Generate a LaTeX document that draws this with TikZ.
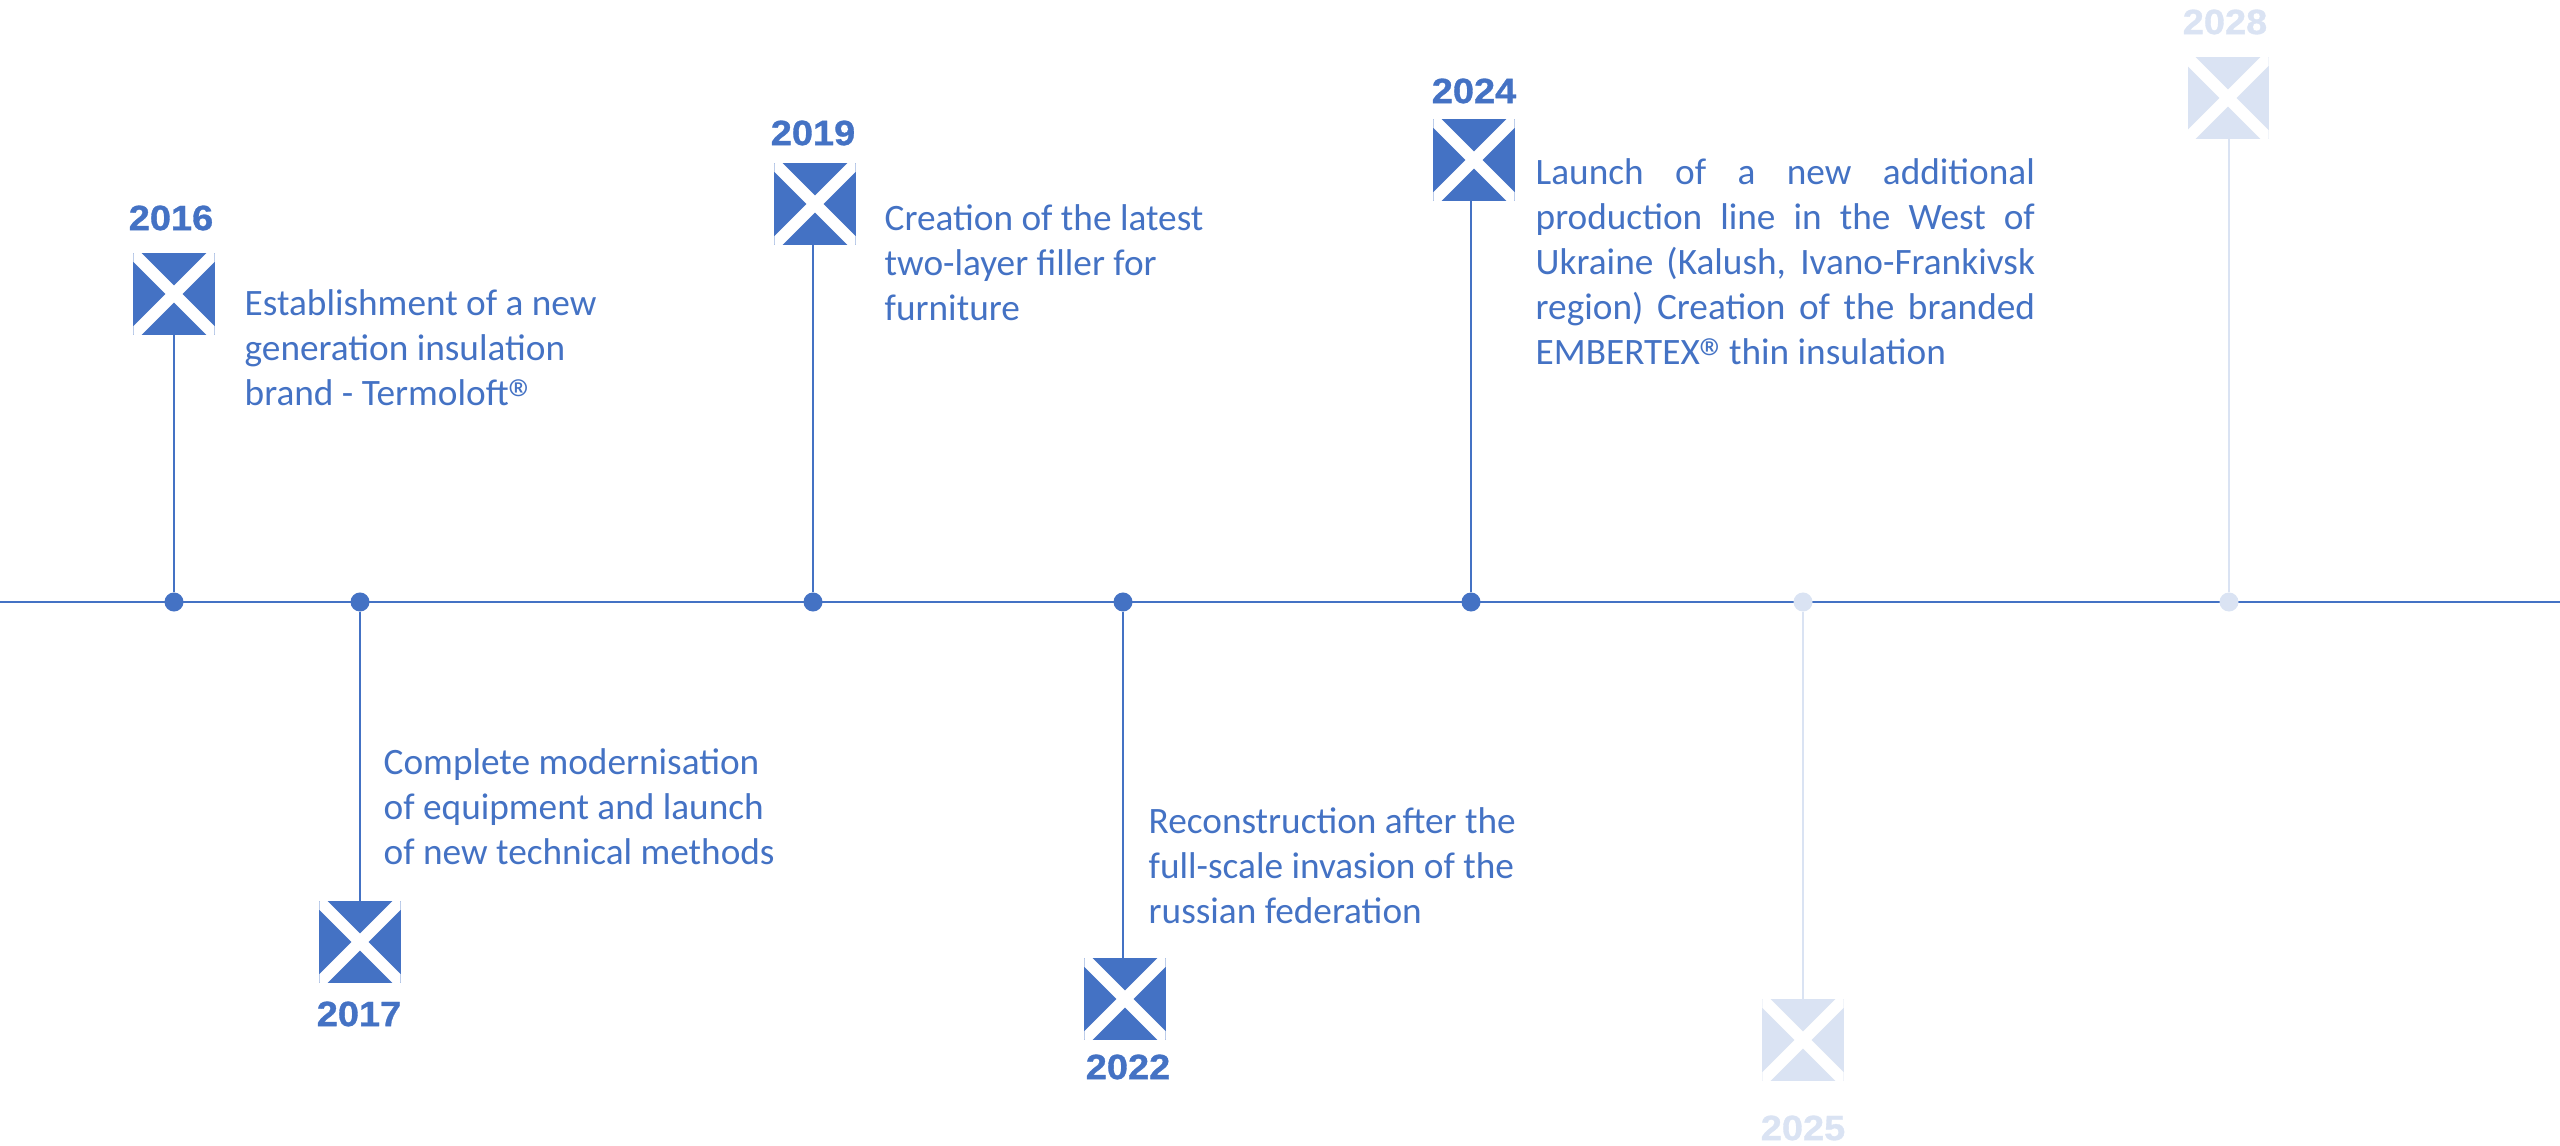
\documentclass[tikz,border=0pt]{standalone}
\usepackage{fontspec}
\setmainfont{Carlito}
\newfontfamily\yearfont[UprightFont=* Bold,FakeBold=0.9,FakeStretch=1.08]{Liberation Sans}
\newcommand{\kreg}{\smash{\raisebox{-3.6pt}{\fontsize{16}{12}\selectfont ®}}}
\definecolor{kdark}{HTML}{4472C4}
\definecolor{klight}{HTML}{DAE3F3}
\tikzset{
  kdot/.style={circle,fill=#1,minimum size=0.19cm,inner sep=0pt,outer sep=0pt},
  kicon/.style={rectangle,fill=#1,minimum size=0.81cm,inner sep=0pt,outer sep=0pt,
    path picture={\draw[white,line width=0.118cm]
      (path picture bounding box.north west)--(path picture bounding box.south east)
      (path picture bounding box.north east)--(path picture bounding box.south west);}},
  kyear/.style={text=#1,font=\yearfont\fontsize{10}{12}\selectfont,inner sep=0pt},
  ktext/.style={text=kdark,anchor=north west,inner sep=0pt,font=\fontsize{10.6}{12.8}\selectfont,align=left},
}
\begin{document}
\begin{tikzpicture}[x=0.01cm,y=-0.01cm]
\useasboundingbox (0,0) rectangle (2560,1146);
\coordinate (lineL) at (0,602);
\coordinate (lineR) at (2560,602);
\draw[kdark,line width=0.02cm] (lineL)--(lineR);
% year/dot x/icon x/icon y/year x/year y/colour/side of the icon
\foreach \klb/\kdx/\kix/\kiy/\kyx/\kyy/\kcol/\kan in {
  2016/174/174/294/171/218/kdark/south,
  2017/360/360/942/359/1014/kdark/north,
  2019/813/815/204/813/133/kdark/south,
  2022/1123/1125/999/1128/1067/kdark/north,
  2024/1471/1474/160/1474/91/kdark/south,
  2025/1803/1803/1040/1803/1128/klight/north,
  2028/2229/2228/98/2225/22/klight/south}{
  \node[kdot=\kcol] (dot\klb) at (\kdx,602) {};
  \node[kicon=\kcol] (icon\klb) at (\kix,\kiy) {};
  \node[kyear=\kcol] (year\klb) at (\kyx,\kyy) {\klb};
  \draw[\kcol,line width=0.02cm] (dot\klb)--(dot\klb|-icon\klb.\kan);
}
\node[ktext] (text2016) at (244,289) {Establishment of a new\\generation insulation\\brand - Termoloft\kreg};
\node[ktext] (text2017) at (383,748) {Complete modernisation\\of equipment and launch\\of new technical methods};
\node[ktext] (text2019) at (884,204) {Creation of the latest\\two-layer filler for\\furniture};
\node[ktext] (text2022) at (1148,807) {Reconstruction after the\\full-scale invasion of the\\russian federation};
\node[ktext,text width=4.99cm,align=justify] (text2024) at (1535,158) {Launch of a new additional\linebreak production line in the West of\linebreak Ukraine (Kalush, Ivano-Frankivsk\linebreak region) Creation of the branded\linebreak EMBERTEX\kreg\hspace{-2.2pt} thin insulation};
\end{tikzpicture}
\end{document}
